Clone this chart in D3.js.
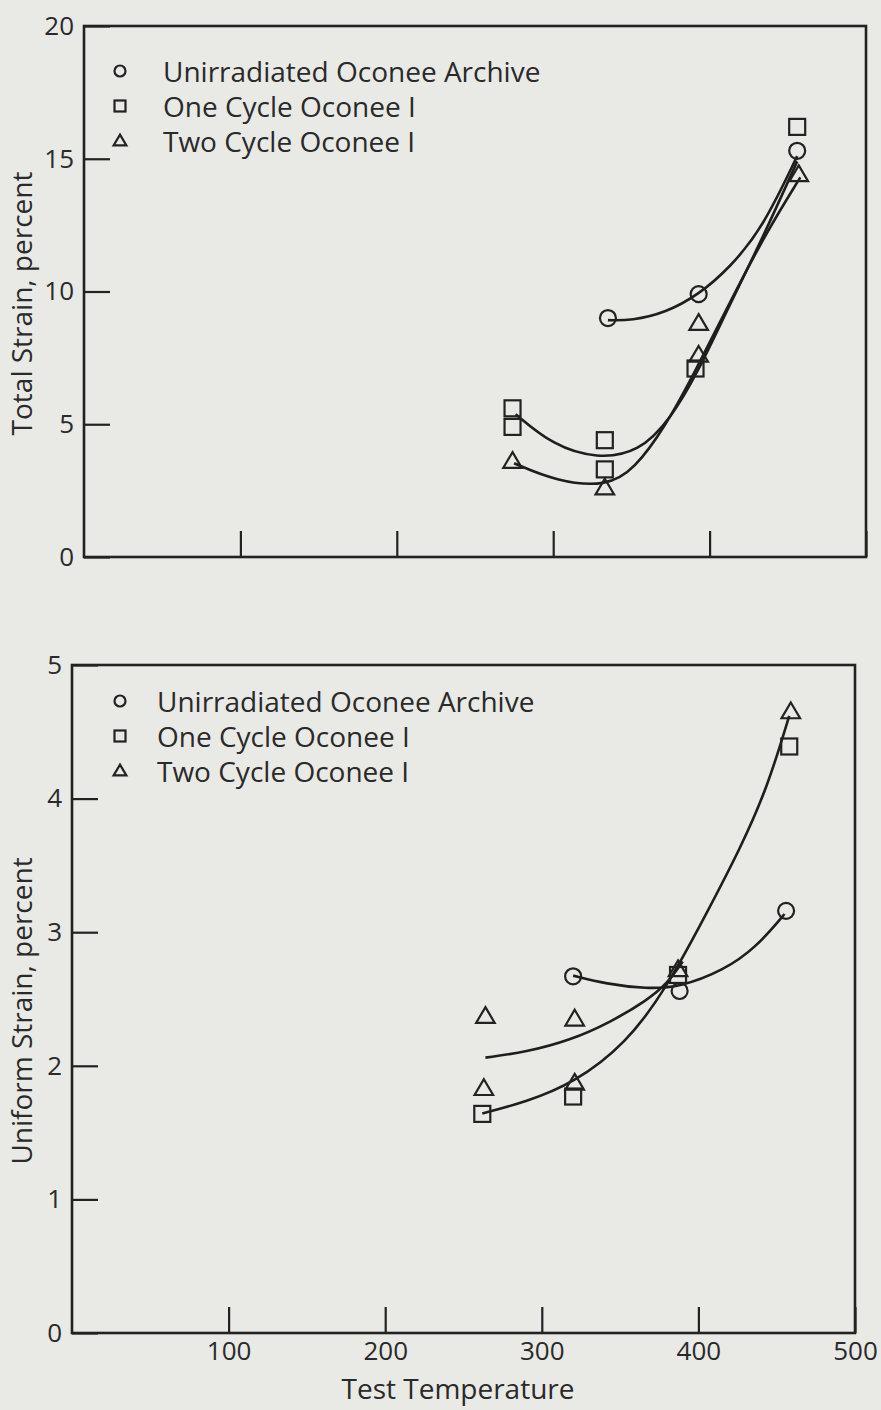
<!DOCTYPE html>
<html lang="en">
<head>
  <meta charset="UTF-8">
  <script src="https://d3js.org/d3.v7.min.js"></script>
  <style>
    body { margin: 0; background-color: #e9e9e6; }
    svg { display: block; background-color: #e9e9e6; }
    text { font-family: "Open Sans", "DejaVu Sans", sans-serif; fill: #2a2a2a; }
    .tick text { font-size: 26px; }
    .tick line { stroke: #222; stroke-width: 2.2; }
    .frame { fill: none; stroke: #222; stroke-width: 2.6; }
    .fit { fill: none; stroke: #1e1e1e; stroke-width: 2.6; }
    .mark { fill: none; stroke: #222; stroke-width: 2.2; }
    .legend { font-size: 28px; }
    .label { font-size: 28px; text-anchor: middle; }
  </style>
</head>
<body>
<svg></svg>
<script>
// globals
const w = 881;
const h = 1410;

const seriesNames = ["Unirradiated Oconee Archive", "One Cycle Oconee I", "Two Cycle Oconee I"];
const seriesShapes = ["circle", "square", "triangle"];
const xTicks = [100, 200, 300, 400, 500];

// top panel: total strain (temperature, percent)
const totalArchive = [[335, 9.0], [393, 9.9], [456, 15.3]];
const totalOneCycle = [[274, 5.6], [274, 4.9], [333, 4.4], [333, 3.3], [391, 7.1], [456, 16.2]];
const totalTwoCycle = [[274, 3.6], [333, 2.6], [393, 8.8], [393, 7.6], [457, 14.4]];
// hand drawn fit lines
const totalArchiveFit = [[335, 8.92], [350, 8.9], [372, 9.2], [393, 9.88], [413, 10.9], [434, 12.4], [456, 15.1]];
const totalOneCycleFit = [[276, 5.38], [300, 4.2], [328, 3.7], [355, 3.95], [375, 5.2], [392, 6.9], [412, 9.4], [433, 11.9], [456, 14.9]];
const totalTwoCycleFit = [[275, 3.53], [302, 2.85], [334, 2.65], [352, 3.3], [372, 4.95], [390, 6.9], [413, 9.6], [436, 12.2], [458, 14.3]];

// bottom panel: uniform strain (temperature, percent)
const uniformArchive = [[320, 2.67], [388, 2.56], [456, 3.16]];
const uniformOneCycle = [[262, 1.64], [320, 1.77], [387, 2.68], [458, 4.39]];
const uniformTwoCycle = [[264, 2.37], [321, 2.35], [263, 1.83], [321, 1.87], [387, 2.72], [459, 4.65]];
const uniformArchiveFit = [[320, 2.675], [341, 2.613], [367, 2.576], [388, 2.588], [416, 2.713], [437, 2.887], [455, 3.136]];
const uniformOneCycleFit = [[262, 1.643], [290, 1.73], [320, 1.867], [354, 2.166], [380, 2.588], [405, 3.136], [427, 3.633], [444, 4.081], [458, 4.62]];
const uniformTwoCycleFit = [[264, 2.061], [290, 2.103], [318, 2.19], [344, 2.327], [367, 2.489], [380, 2.613], [390, 2.78]];

const panels = [
  {
    left: 84, right: 866, top: 26, bottom: 557,
    yMax: 20, yTicks: [0, 5, 10, 15, 20], xLabels: false,
    yTitle: "Total Strain, percent",
    points: [totalArchive, totalOneCycle, totalTwoCycle],
    fits: [totalArchiveFit, totalOneCycleFit, totalTwoCycleFit],
    legendX: 120, legendY: 72, textX: 163
  },
  {
    left: 72, right: 855, top: 665, bottom: 1333,
    yMax: 5, yTicks: [0, 1, 2, 3, 4, 5], xLabels: true,
    yTitle: "Uniform Strain, percent",
    points: [uniformArchive, uniformOneCycle, uniformTwoCycle],
    fits: [uniformArchiveFit, uniformOneCycleFit, uniformTwoCycleFit],
    legendX: 120, legendY: 702, textX: 157
  }
];

const svg = d3.select("svg")
              .attr("width", w)
              .attr("height", h);

function drawMark(g, shape, x, y, s) {
  if (shape === "circle") {
    g.append("circle").attr("class", "mark").attr("cx", x).attr("cy", y).attr("r", s * 0.5);
  } else if (shape === "square") {
    g.append("rect").attr("class", "mark")
     .attr("x", x - s / 2).attr("y", y - s / 2).attr("width", s).attr("height", s);
  } else {
    const r = s * 0.58;
    g.append("path").attr("class", "mark")
     .attr("d", `M${x},${y - r}L${x + r},${y + r * 0.7}L${x - r},${y + r * 0.7}Z`);
  }
}

panels.forEach(p => {
  const xScale = d3.scaleLinear().domain([0, 500]).range([p.left, p.right]);
  const yScale = d3.scaleLinear().domain([0, p.yMax]).range([p.bottom, p.top]);

  const g = svg.append("g");

  // y axis, ticks pointing inward
  g.append("g")
   .attr("transform", `translate(${p.left},0)`)
   .call(d3.axisLeft(yScale).tickValues(p.yTicks).tickFormat(d3.format("d"))
           .tickSizeInner(-26).tickSizeOuter(0).tickPadding(10))
   .call(a => a.select(".domain").remove());

  // x axis
  const xAxis = d3.axisBottom(xScale).tickValues(xTicks).tickSizeInner(-26).tickSizeOuter(0).tickPadding(9);
  if (!p.xLabels) xAxis.tickFormat("");
  g.append("g")
   .attr("transform", `translate(0,${p.bottom})`)
   .call(xAxis)
   .call(a => a.select(".domain").remove());

  g.append("rect")
   .attr("class", "frame")
   .attr("x", p.left).attr("y", p.top)
   .attr("width", p.right - p.left).attr("height", p.bottom - p.top);

  // fit lines
  const line = d3.line()
                 .x(d => xScale(d[0]))
                 .y(d => yScale(d[1]))
                 .curve(d3.curveBasis);
  p.fits.forEach(f => {
    g.append("path").attr("class", "fit").attr("d", line(f));
  });

  // data points
  p.points.forEach((pts, i) => {
    pts.forEach(d => drawMark(g, seriesShapes[i], xScale(d[0]), yScale(d[1]), 16));
  });

  // legend
  seriesNames.forEach((name, i) => {
    const y = p.legendY + i * 35;
    drawMark(g, seriesShapes[i], p.legendX, y - 1, 11);
    g.append("text")
     .attr("class", "legend")
     .attr("x", p.textX)
     .attr("y", y)
     .attr("dy", "0.35em")
     .text(name);
  });

  // y title
  g.append("text")
   .attr("class", "label")
   .attr("transform", `translate(22,${(p.top + p.bottom) / 2 + 12}) rotate(-90)`)
   .attr("dy", "0.35em")
   .text(p.yTitle);
});

// x title
svg.append("text")
   .attr("class", "label")
   .attr("x", 458)
   .attr("y", 1399)
   .text("Test Temperature");
</script>
</body>
</html>
